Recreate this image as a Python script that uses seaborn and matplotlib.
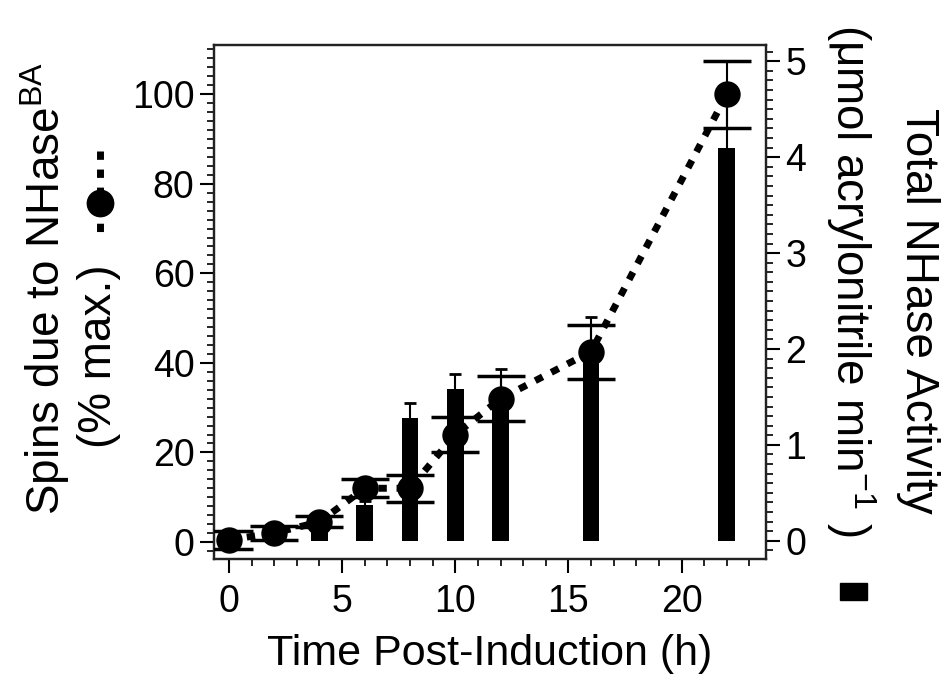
import matplotlib
matplotlib.use("Agg")
import matplotlib.pyplot as plt
from matplotlib.ticker import MultipleLocator
from matplotlib.lines import Line2D
from matplotlib.patches import Rectangle
import pandas as pd
import seaborn as sns

# values
time_h = [0, 2, 4, 6, 8, 10, 12, 16, 22]
spins_pct = [0.5, 2, 4.5, 12, 12, 24, 32, 42.5, 100]
spins_err = [2, 1.5, 1.2, 2, 3, 4, 5, 6, 7.5]
activity = [0.02, 0.03, 0.2, 0.37, 1.28, 1.58, 1.5, 2.0, 4.1]
activity_err = [0.02, 0.02, 0.05, 0.05, 0.16, 0.16, 0.29, 0.33, 0.5]

df = pd.DataFrame({'time': time_h, 'spins': spins_pct, 'spins_err': spins_err,
                   'activity': activity, 'activity_err': activity_err})

sns.set_theme(style="ticks")
plt.rcParams['font.family'] = ['Liberation Sans', 'DejaVu Sans']
plt.rcParams['mathtext.fontset'] = 'custom'
plt.rcParams['mathtext.rm'] = 'Liberation Sans'
plt.rcParams['mathtext.it'] = 'Liberation Sans:italic'
plt.rcParams['text.color'] = 'black'
plt.rcParams['axes.labelcolor'] = 'black'
plt.rcParams['xtick.color'] = 'black'
plt.rcParams['ytick.color'] = 'black'

W, H = 944, 696
fig = plt.figure(figsize=(W / 100, H / 100), dpi=100)
ax = fig.add_axes([214 / W, 1 - 559 / H, (766 - 214) / W, (559 - 45) / H])
ax2 = ax.twinx()
ax.set_zorder(ax2.get_zorder() + 1)
ax.patch.set_visible(False)

# bars - total activity (right axis)
sns.barplot(data=df, x='time', y='activity', native_scale=True, width=0.37,
            color='black', saturation=1, linewidth=0, errorbar=None, ax=ax2)
ax2.errorbar(df['time'], df['activity'], yerr=df['activity_err'], fmt='none',
             ecolor='black', elinewidth=1.5, capsize=4.5, capthick=2)

# circles - spins (left axis)
sns.lineplot(data=df, x='time', y='spins', color='black', lw=5,
             linestyle=(0, (1.2, 1.4)), ax=ax, zorder=2)
ax.errorbar(df['time'], df['spins'], yerr=df['spins_err'], fmt='none',
            ecolor='black', elinewidth=1.5, capsize=17, capthick=2.5, zorder=3)
sns.scatterplot(data=df, x='time', y='spins', color='black', s=19 ** 2,
                edgecolor='black', linewidth=0, ax=ax, zorder=4)

ax.set_xlim(-0.66, 23.73)
ax.set_ylim(-3.8, 111)
ax2.set_ylim(-0.19, 5.17)

ax.xaxis.set_major_locator(MultipleLocator(5))
ax.xaxis.set_minor_locator(MultipleLocator(1))
ax.yaxis.set_major_locator(MultipleLocator(20))
ax.yaxis.set_minor_locator(MultipleLocator(2))
ax2.yaxis.set_major_locator(MultipleLocator(1))
ax2.yaxis.set_minor_locator(MultipleLocator(0.1))

for a in (ax, ax2):
    a.tick_params(which='major', length=10, width=1.5, labelsize=27, color='black',
                  labelcolor='black', pad=4)
    a.tick_params(which='minor', length=5, width=1.2, color='black')
    for s in a.spines.values():
        s.set_linewidth(1.6)
        s.set_color('#222222')
ax.tick_params(axis='x', pad=8)

ax.set_xlabel('Time Post-Induction (h)', fontsize=31, labelpad=10)
ax.set_ylabel('')
ax2.set_ylabel('')

# y-axis titles with legend glyphs
fig.text(45 / W, 1 - 288 / H, 'Spins due to NHase$^{\\mathrm{BA}}$', rotation=90,
         ha='center', va='center', fontsize=33)
fig.text(99 / W, 1 - 356 / H, '(% max.)', rotation=90, ha='center', va='center', fontsize=33)
fig.add_artist(Line2D([100 / W, 100 / W], [1 - 151 / H, 1 - 240 / H], transform=fig.transFigure,
                      color='black', lw=5, linestyle=(0, (1.2, 1.4))))
fig.add_artist(Line2D([100 / W], [1 - 203 / H], transform=fig.transFigure, marker='o',
                      markersize=19, color='black', linestyle='none'))

fig.text(918 / W, 1 - 311 / H, 'Total NHase Activity', rotation=270,
         ha='center', va='center', fontsize=33)
fig.text(851 / W, 1 - 280 / H, '(\u03bcmol acrylonitrile min$^{\\mathrm{-1}}$ )', rotation=270,
         ha='center', va='center', fontsize=33)
fig.add_artist(Rectangle((840 / W, 1 - 600 / H), 27 / W, 17 / H, transform=fig.transFigure,
                         color='black'))

fig.savefig('out.png', dpi=100)
